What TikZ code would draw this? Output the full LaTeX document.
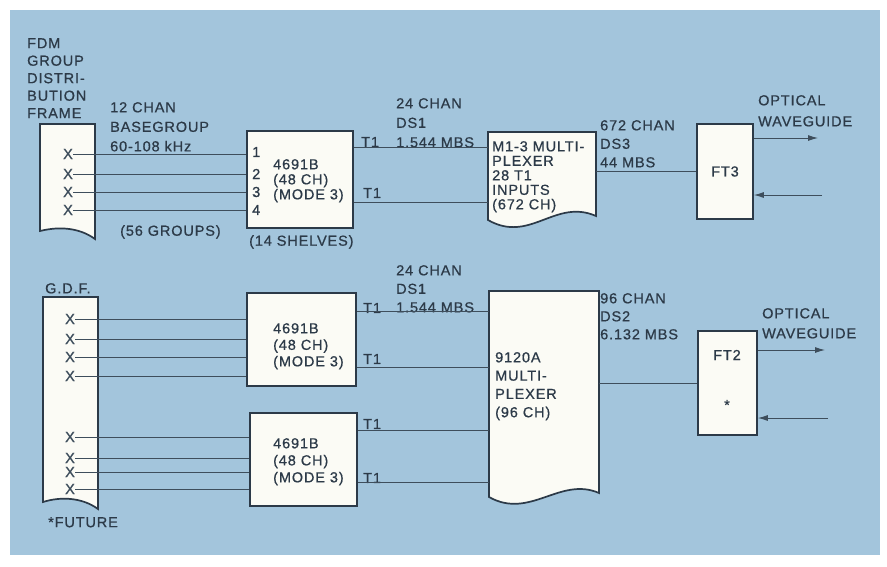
\documentclass[tikz,border=0pt]{standalone}
\usepackage{fontspec}
\setmainfont[LetterSpace=6,FakeBold=0.7]{Liberation Sans}
\usetikzlibrary{arrows.meta,positioning}
\definecolor{panelblue}{RGB}{163,197,220}
\definecolor{inkgray}{RGB}{44,58,72}
\definecolor{wiregray}{RGB}{62,78,92}
\definecolor{boxwhite}{RGB}{251,251,245}

\begin{document}
\begin{tikzpicture}[x=1pt,y=-1pt, every node/.style={font=\fontsize{14.5}{18.5}\selectfont,text=inkgray,inner sep=0pt,align=left}, box/.style={draw=inkgray,line width=1.7pt,fill=boxwhite}, shell/.style={draw=none,minimum width=#1}, lbl/.style={anchor=north west}, xmark/.style={font=\fontsize{15}{15}\selectfont,text=wiregray}, wire/.style={draw=wiregray,line width=0.9pt}, arr/.style={wire,-{Latex[length=10pt,width=6pt]}}]
\useasboundingbox (0,0) rectangle (887,566);
\fill[white] (0,0) rectangle (887,566);
\fill[panelblue] (10,10) rectangle (880,555);
% upper chain: FDM frame -> 4691B -> M1-3 -> FT3
\draw[box] (40,124) -- (95,124) -- (95,239) .. controls (80,228) and (60,226) .. (40,231) -- cycle;
\node[lbl,font=\fontsize{14.5}{17.5}\selectfont] (fdm) at (27,38) {FDM\\GROUP\\DISTRI-\\BUTION\\FRAME};
\node[lbl,font=\fontsize{14.5}{19.5}\selectfont] (basegrp) at (110,102) {12 CHAN\\BASEGROUP\\60-108 kHz};
\node[lbl] (grp56) at (120,225) {(56 GROUPS)};
\node[xmark] (xa1) at (68,154) {X};
\node[xmark] (xa2) at (68,174) {X};
\node[xmark] (xa3) at (68,192) {X};
\node[xmark] (xa4) at (68,210) {X};
\node[box,minimum width=106pt,minimum height=97pt] (sa) at (300,179.5) {};
\node[anchor=west] (na1) at (252,152) {1};
\node[anchor=west] (na2) at (252,174) {2};
\node[anchor=west] (na3) at (252,192) {3};
\node[anchor=west] (na4) at (252,210) {4};
\node[lbl,font=\fontsize{14.5}{15}\selectfont] (sa-txt) at (273,159) {4691B\\(48 CH)\\(MODE 3)};
\node[lbl] (shelves) at (249,235) {(14 SHELVES)};
\node[anchor=west] (t1a) at (361,142) {T1};
\node[anchor=west] (t1b) at (363,193) {T1};
\node[lbl,font=\fontsize{14.5}{19.5}\selectfont] (ds1a) at (396,98) {24 CHAN\\DS1\\1.544 MBS};
\node[shell=108pt,minimum height=88pt] (mux3) at (542,176) {};
\draw[box] (488,132) -- (596,132) -- (596,216) .. controls (555,198) and (530,244) .. (488,220) -- cycle;
\node[lbl,font=\fontsize{14.5}{14.5}\selectfont] (mux3-txt) at (492,141) {M1-3 MULTI-\\PLEXER\\28 T1\\INPUTS\\(672 CH)};
\node[lbl] (ds3) at (600,120) {672 CHAN\\DS3\\44 MBS};
\node[box,minimum width=56pt,minimum height=95pt] (ft3) at (725,171.5) {FT3};
\node[lbl,font=\fontsize{14.5}{21}\selectfont] (opta) at (758,95) {OPTICAL\\WAVEGUIDE};
\coordinate (wga) at (818,138);
\coordinate (wgb) at (822,195);
\foreach \i in {1,...,4} \draw[wire] (xa\i.east) -- (xa\i -| sa.west);
\coordinate (sa-p1) at ([yshift=-17pt]sa.north east);
\coordinate (sa-p2) at ([yshift=-72pt]sa.north east);
\draw[wire] (sa-p1) -- (sa-p1 -| mux3.west);
\draw[wire] (sa-p2) -- (sa-p2 -| mux3.west);
\draw[wire] (mux3.east |- ft3) -- (ft3.west);
\draw[arr] (ft3.east |- wga) -- (wga);
\draw[arr] (wgb) -- (wgb -| ft3.east);
% lower chain: G.D.F. -> 2x 4691B -> 9120A -> FT2
\node[lbl] (gdf) at (45,283) {G.D.F.};
\draw[box] (43,297) -- (98,297) -- (98,509) .. controls (83,498) and (62,496) .. (43,502) -- cycle;
\node[lbl] (future) at (48,517) {*FUTURE};
\foreach \n/\y in {1/319,2/339,3/357,4/376,5/437,6/458,7/472,8/489}
  \node[xmark] (xb\n) at (70,\y) {X};
\node[box,minimum width=109pt,minimum height=93pt] (sb1) at (301.5,339.5) {};
\node[box,minimum width=107pt,minimum height=93pt] (sb2) at (303.5,459.5) {};
\node[lbl,font=\fontsize{14.5}{16.5}\selectfont] (sb1-txt) at (273,323) {4691B\\(48 CH)\\(MODE 3)};
\node[lbl,font=\fontsize{14.5}{17}\selectfont] (sb2-txt) at (273,438) {4691B\\(48 CH)\\(MODE 3)};
\node[anchor=west] (t1c) at (363,308) {T1};
\node[anchor=west] (t1d) at (363,359) {T1};
\node[anchor=west] (t1e) at (363,424) {T1};
\node[anchor=west] (t1f) at (363,478) {T1};
\node[lbl] (ds1b) at (396,265) {24 CHAN\\DS1\\1.544 MBS};
\node[shell=110pt,minimum height=204pt] (mux2) at (544,393) {};
\draw[box] (489,291) -- (599,291) -- (599,493) .. controls (560,476) and (530,520) .. (489,497) -- cycle;
\node[lbl,font=\fontsize{14.5}{18.3}\selectfont] (mux2-txt) at (495,352) {9120A\\MULTI-\\PLEXER\\(96 CH)};
\node[lbl,font=\fontsize{14.5}{18}\selectfont] (ds2) at (600,293) {96 CHAN\\DS2\\6.132 MBS};
\node[box,minimum width=59pt,minimum height=104pt] (ft2) at (727.5,383) {};
\node (ft2-txt) at (727,355) {FT2};
\node (ft2-star) at (727,405) {*};
\node[lbl,font=\fontsize{14.5}{20}\selectfont] (optb) at (762,308) {OPTICAL\\WAVEGUIDE};
\coordinate (wgc) at (825,350);
\coordinate (wgd) at (828,418);
\foreach \i in {1,...,4} \draw[wire] (xb\i.east) -- (xb\i -| sb1.west);
\foreach \i in {5,...,8} \draw[wire] (xb\i.east) -- (xb\i -| sb2.west);
\coordinate (sb1-p1) at ([yshift=-19pt]sb1.north east);
\coordinate (sb1-p2) at ([yshift=-75pt]sb1.north east);
\coordinate (sb2-p1) at ([yshift=-18pt]sb2.north east);
\coordinate (sb2-p2) at ([yshift=-70pt]sb2.north east);
\foreach \p in {sb1-p1,sb1-p2,sb2-p1,sb2-p2} \draw[wire] (\p) -- (\p -| mux2.west);
\draw[wire] (mux2.east |- ft2) -- (ft2.west);
\draw[arr] (ft2.east |- wgc) -- (wgc);
\draw[arr] (wgd) -- (wgd -| ft2.east);
\end{tikzpicture}
\end{document}
